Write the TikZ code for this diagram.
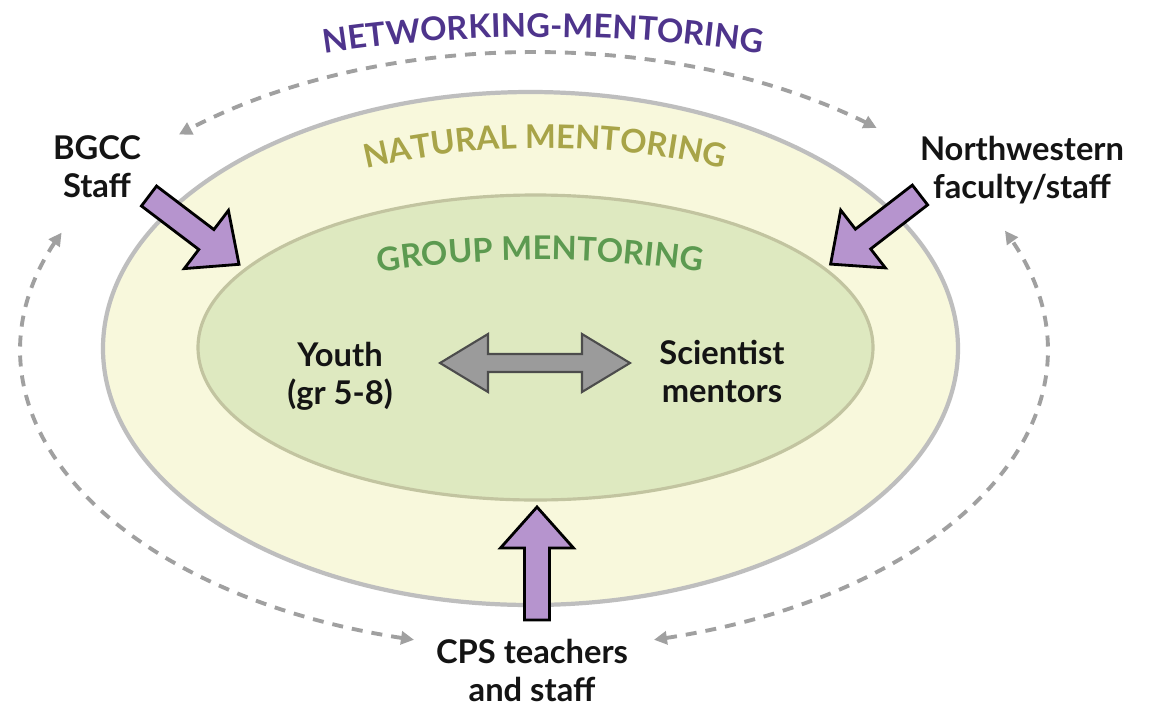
\documentclass[tikz,border=0pt]{standalone}
\usepackage{fontspec}
\setmainfont{Lato}
\usepackage{xcolor}
\usepackage{tikz}
\usetikzlibrary{
  positioning,
  calc,
  arrows.meta,
  bending,
  decorations.text
}

\definecolor{netpurple}{RGB}{78,52,140}
\definecolor{natolive}{RGB}{168,164,72}
\definecolor{grpgreen}{RGB}{92,154,80}
\definecolor{natfill}{RGB}{248,248,220}
\definecolor{grpfill}{RGB}{222,233,192}
\definecolor{grpline}{RGB}{194,196,160}
\definecolor{ringline}{RGB}{190,190,190}
\definecolor{dashgray}{RGB}{160,160,160}
\definecolor{arrowpurple}{RGB}{182,148,206}
\definecolor{swapgray}{RGB}{155,155,155}
\definecolor{ink}{RGB}{20,20,20}

\newcommand{\ringfont}{\fontsize{9.3}{11}\selectfont\bfseries}

\begin{document}
\begin{tikzpicture}[
  who/.style={font=\fontsize{9.3}{10.8}\selectfont\bfseries, align=center, text=ink, inner sep=0pt},
  netarc/.style={dashgray, line width=1.1pt, dash pattern=on 1.1mm off 0.9mm,
    {Triangle[length=1.3mm,width=1.3mm]}-{Triangle[length=1.3mm,width=1.3mm]}},
  inflow/.style={fill=arrowpurple, draw=black, line width=0.8pt, line join=miter},
  swaparrow/.style={fill=swapgray, draw=black!70, line width=0.6pt, line join=miter},
  pics/inarrow/.style={code={
    \draw[inflow] (0,-.125) -- (.72,-.125) -- (.72,-.365) -- (1.13,0)
      -- (.72,.365) -- (.72,.125) -- (0,.125) -- cycle;}},
  pics/twoway/.style={code={
    \draw[swaparrow] (-.95,0) -- (-.47,.29) -- (-.47,.09) -- (.47,.09) -- (.47,.29)
      -- (.95,0) -- (.47,-.29) -- (.47,-.09) -- (-.47,-.09) -- (-.47,-.29) -- cycle;}}
]
  \fill[white] (0,0) rectangle (11.6,7.09);
  \useasboundingbox (0,0) rectangle (11.6,7.09);

  % centres of the three rings
  \coordinate (net) at (5.34,3.59);
  \coordinate (nat) at (5.305,3.605);
  \coordinate (grp) at (5.355,3.615);

  % dashed networking ring, three arcs with tips at both ends
  \foreach \a/\b in {48.2/133.7, 156.8/256.5, 283.5/383.6}
    \draw[netarc] ($(net)+(\a:5.14 and 2.98)$)
      arc[start angle=\a, end angle=\b, x radius=5.14, y radius=2.98];

  % natural and group rings
  \draw[ringline, line width=1.2pt, fill=natfill] (nat) ellipse [x radius=4.275, y radius=2.565];
  \draw[grpline, line width=0.9pt, fill=grpfill] (grp) ellipse [x radius=3.375, y radius=1.525];

  % ring titles bent along circle arcs
  \coordinate (netc) at (5.43,-7.98);
  \coordinate (natc) at (5.45,-2.29);
  \coordinate (grpc) at (5.40,-6.21);
  \path[decorate, decoration={text along path, text align=center, text color=netpurple,
      text={|\ringfont|NETWORKING-MENTORING}}]
    ($(netc)+(110:14.7)$) arc[start angle=110, end angle=70, radius=14.7];
  \path[decorate, decoration={text along path, text align=center, text color=natolive,
      text={|\ringfont|NATURAL MENTORING}}]
    ($(natc)+(120:7.9)$) arc[start angle=120, end angle=60, radius=7.9];
  \path[decorate, decoration={text along path, text align=center, text color=grpgreen,
      text={|\ringfont|GROUP MENTORING}}]
    ($(grpc)+(110:10.7)$) arc[start angle=110, end angle=70, radius=10.7];

  % people
  \node[who] (bgcc) at (0.97,5.42) {BGCC\\Staff};
  \node[who] (nu) at (10.22,5.39) {Northwestern\\faculty/staff};
  \node[who] (youth) at (3.40,3.33) {Youth\\(gr 5-8)};
  \node[who] (sci) at (7.22,3.38) {Scientist\\mentors};
  \node[who] (cps) at (5.32,0.39) {CPS teachers\\and staff};

  % purple arrows into the group ring
  \coordinate (bgcc tail) at (1.49,5.13);
  \coordinate (nu tail) at (9.20,5.14);
  \coordinate (cps tail) at (5.37,0.89);
  \pic[rotate=-37.2] at (bgcc tail) {inarrow};
  \pic[rotate=-142.3] at (nu tail) {inarrow};
  \pic[rotate=90] at (cps tail) {inarrow};

  % youth <-> scientists
  \coordinate (swapc) at (5.35,3.46);
  \pic at (swapc) {twoway};
\end{tikzpicture}
\end{document}
